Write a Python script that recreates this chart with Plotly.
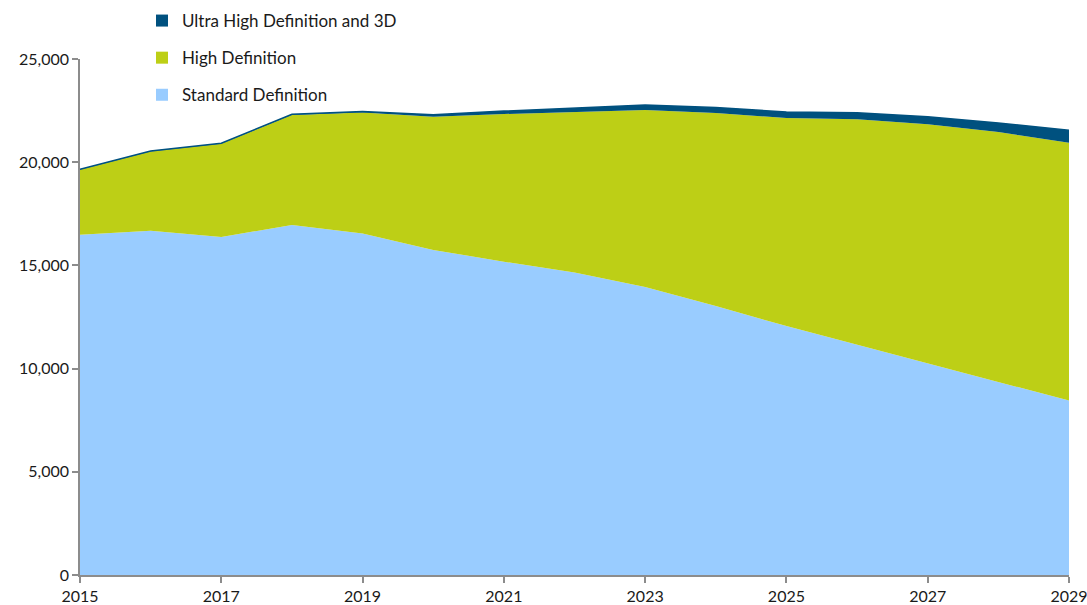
import plotly.graph_objects as go

years = list(range(2015, 2030))
sd = [16490, 16680, 16380, 16960, 16540, 15750, 15180, 14650, 13950, 13030, 12060, 11150, 10250, 9350, 8450]
hd = [3150, 3840, 4510, 5330, 5870, 6457, 7155, 7782, 8579, 9354, 10081, 10928, 11586, 12113, 12495]
uhd = [20, 25, 30, 35, 45, 90, 140, 190, 240, 270, 290, 320, 360, 440, 600]

names = ["Standard Definition", "High Definition", "Ultra High Definition and 3D"]
colors = ["#99CCFF", "#BDCF16", "#00517F"]
series = [sd, hd, uhd]

fig = go.Figure()
for name, col, vals in zip(names, colors, series):
    is_top = name.startswith("Ultra")
    fig.add_trace(go.Scatter(
        x=years, y=vals, name=name, mode="lines", stackgroup="one",
        fillcolor=col,
        line=dict(color=col, width=1.5 if is_top else 0),
        showlegend=False, hoverinfo="x+y+name",
    ))

# legend entries (square swatches), top to bottom: UHD, HD, SD
for i, (name, col) in enumerate(reversed(list(zip(names, colors)))):
    fig.add_trace(go.Scatter(
        x=[None], y=[None], mode="markers", name=name,
        marker=dict(symbol="square", size=12, color=col),
        legendgroup=f"g{i}", showlegend=True,
    ))

fig.update_layout(
    width=1087, height=605,
    margin=dict(l=80, r=18, t=59, b=30, autoexpand=False),
    plot_bgcolor="white", paper_bgcolor="white",
    font=dict(family="Lato, Open Sans, sans-serif", size=16, color="#1a1a1a"),
    legend=dict(
        x=0.0627, y=1.1085, xanchor="left", yanchor="top",
        orientation="v", traceorder="grouped", tracegroupgap=12,
        font=dict(size=17), bgcolor="rgba(0,0,0,0)", itemwidth=30,
    ),
    xaxis=dict(
        range=[2015, 2029], tickmode="array", tickvals=list(range(2015, 2030, 2)),
        ticktext=[str(y) for y in range(2015, 2030, 2)],
        showgrid=False, zeroline=False, showline=True, linecolor="#8c8c8c", linewidth=1.5,
        ticks="outside", ticklen=6, tickcolor="#8c8c8c", tickwidth=1.5,
        tickfont=dict(size=16), automargin=False, ticklabeloverflow="allow",
    ),
    yaxis=dict(
        range=[0, 25000], tickmode="array", tickvals=[0, 5000, 10000, 15000, 20000, 25000],
        ticktext=["0", "5,000", "10,000", "15,000", "20,000", "25,000"],
        showgrid=False, zeroline=False, showline=True, linecolor="#8c8c8c", linewidth=1.5,
        ticks="outside", ticklen=6, tickcolor="#8c8c8c", tickwidth=1.5,
        tickfont=dict(size=16), automargin=False,
    ),
)

fig.write_html(
    "out.html",
    config={"displayModeBar": False},
    post_script="document.body.style.margin='0';document.body.style.overflow='hidden';",
)
